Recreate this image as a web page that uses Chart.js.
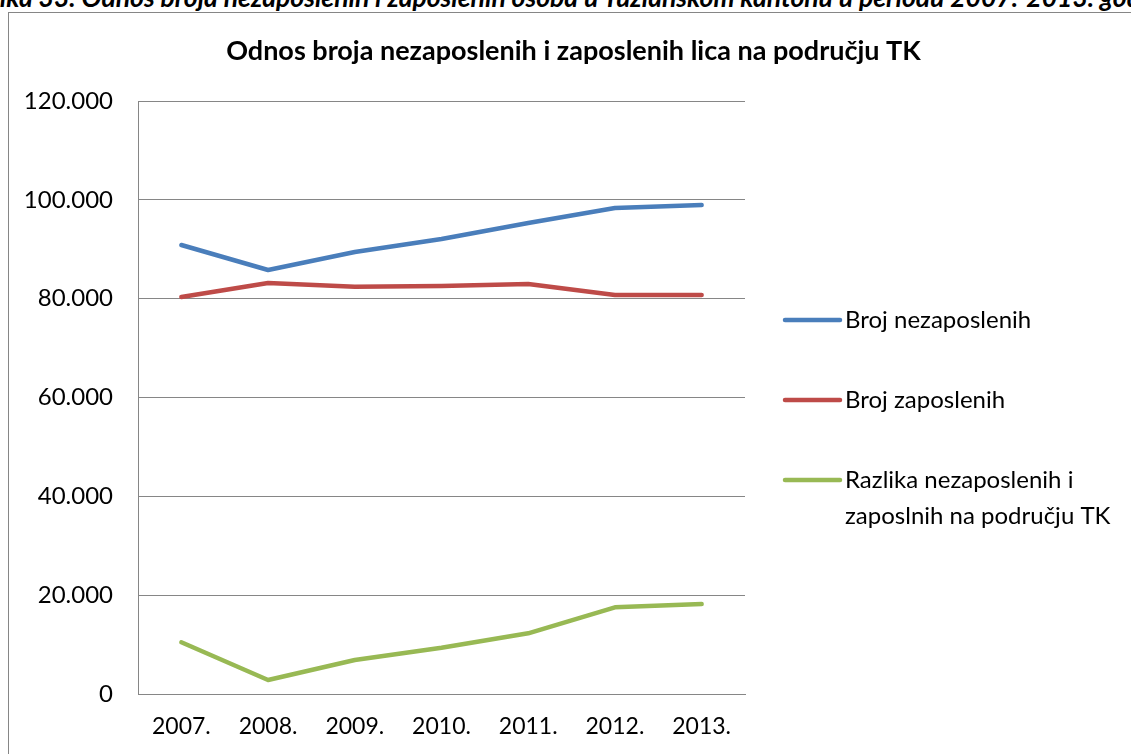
<!DOCTYPE html>
<html>
<head>
<meta charset="utf-8">
<script src="https://cdn.jsdelivr.net/npm/chart.js@4/dist/chart.umd.min.js"></script>
<style>
	html, body { margin: 0; padding: 0; background: #fff; overflow: hidden; }
	#wrap { position: relative; width: 1131px; height: 754px; overflow: hidden; }
	#caption { position: absolute; top: -16px; left: 0; white-space: nowrap; font: italic bold 26.5px Lato, sans-serif; line-height: 26.5px; color: #000; }
	#frame { position: absolute; left: 8px; top: 12px; width: 2000px; height: 2000px; border-left: 1px solid #868686; border-top: 1px solid #868686; }
	#myChart { position: absolute; left: 0; top: 0; }
</style>
</head>
<body>
<div id="wrap">
	<div id="caption"><span id="capPrefix">Sl</span>ika 33. Odnos broja nezaposlenih i zaposlenih osoba u Tuzlanskom kantonu u periodu 2007.-2013. godine</div>
	<div id="frame"></div>
	<canvas id="myChart" width="1131" height="754"></canvas>
</div>
<script>
// data
let years = ["2007.", "2008.", "2009.", "2010.", "2011.", "2012.", "2013."];
let nezaposleni = [90860, 85800, 89440, 92070, 95310, 98350, 98950];
let zaposleni = [80340, 83170, 82420, 82560, 82970, 80740, 80740];
let razlika = [10460, 2830, 6880, 9370, 12280, 17540, 18210];
let yTicks = [0, 20000, 40000, 60000, 80000, 100000, 120000];
let chartTitle = "Odnos broja nezaposlenih i zaposlenih lica na području TK";
let seriesNames = ["Broj nezaposlenih", "Broj zaposlenih", "Razlika nezaposlenih i zaposlnih na području TK"];
let seriesColors = ["#4A7EBB", "#BE4B48", "#98B954"];

// push the cut-off "Sl" off the left edge like in the source page
let pre = document.getElementById('capPrefix');
document.getElementById('caption').style.left = (-pre.offsetWidth) + "px";

function fmtNum(v){
	return v.toLocaleString('de-DE');
}

function wrapText(ctx, text, maxWidth){
	let words = text.split(" ");
	let lines = [];
	let cur = "";
	for(let i in words){
		let test = cur ? cur + " " + words[i] : words[i];
		if(cur && ctx.measureText(test).width > maxWidth){
			lines.push(cur);
			cur = words[i];
		}
		else
			cur = test;
	}
	if(cur) lines.push(cur);
	return lines;
}

// title + right legend drawn by hand (multi-line entry)
let sideDecor = {
	id: 'sideDecor',
	afterDraw: function(chart){
		let ctx = chart.ctx;
		let area = chart.chartArea;
		ctx.save();
		ctx.fillStyle = "#000";
		ctx.font = "bold 27px Lato";
		ctx.textAlign = "center";
		ctx.textBaseline = "middle";
		ctx.fillText(chartTitle, chart.width / 2 + 8, 51);

		ctx.font = "24px Lato";
		ctx.textAlign = "left";
		let y = area.top + 219;
		let sets = chart.data.datasets;
		for(let i = 0; i < sets.length; i++){
			let x0 = area.right + 40;
			ctx.strokeStyle = sets[i].borderColor;
			ctx.lineWidth = 4.5;
			ctx.lineCap = "round";
			ctx.beginPath();
			ctx.moveTo(x0, y);
			ctx.lineTo(x0 + 55, y);
			ctx.stroke();
			let lines = wrapText(ctx, sets[i].label, chart.width - x0 - 62);
			for(let j = 0; j < lines.length; j++){
				ctx.fillText(lines[j], x0 + 60, y + j * 36);
			}
			y += 80;
		}
		ctx.restore();
	}
};

Chart.defaults.font.family = "Lato";
Chart.defaults.color = "#000";

let datasets = [];
let seriesData = [nezaposleni, zaposleni, razlika];
for(let i in seriesData){
	datasets.push({
		label: seriesNames[i],
		data: seriesData[i],
		borderColor: seriesColors[i],
		backgroundColor: seriesColors[i],
		borderWidth: 4.5,
		borderCapStyle: 'round',
		borderJoinStyle: 'round',
		pointRadius: 0,
		pointHoverRadius: 0,
		tension: 0,
		fill: false
	});
}

let ctx = document.getElementById('myChart');
let chart = new Chart(ctx, {
	type: 'line',
	data: {
		labels: years,
		datasets: datasets
	},
	options: {
		animation: false,
		responsive: false,
		layout: {
			padding: {left: 0, top: 101, right: 386, bottom: 0}
		},
		plugins: {
			legend: {display: false},
			title: {display: false},
			tooltip: {enabled: false}
		},
		scales: {
			x: {
				offset: true,
				grid: {display: false},
				border: {display: true, color: "#868686", width: 1},
				ticks: {font: {size: 23}, padding: 11, maxRotation: 0},
				afterFit: function(scale){ scale.height = 60; }
			},
			y: {
				min: yTicks[0],
				max: yTicks[yTicks.length - 1],
				afterBuildTicks: function(scale){
					scale.ticks = yTicks.map(function(v){ return {value: v}; });
				},
				grid: {color: "#868686", lineWidth: 1, drawTicks: false},
				border: {display: true, color: "#868686", width: 1},
				ticks: {
					font: {size: 24},
					padding: 25,
					callback: function(v){ return fmtNum(v); }
				},
				afterFit: function(scale){ scale.width = 138; }
			}
		}
	},
	plugins: [sideDecor]
});
</script>
</body>
</html>
